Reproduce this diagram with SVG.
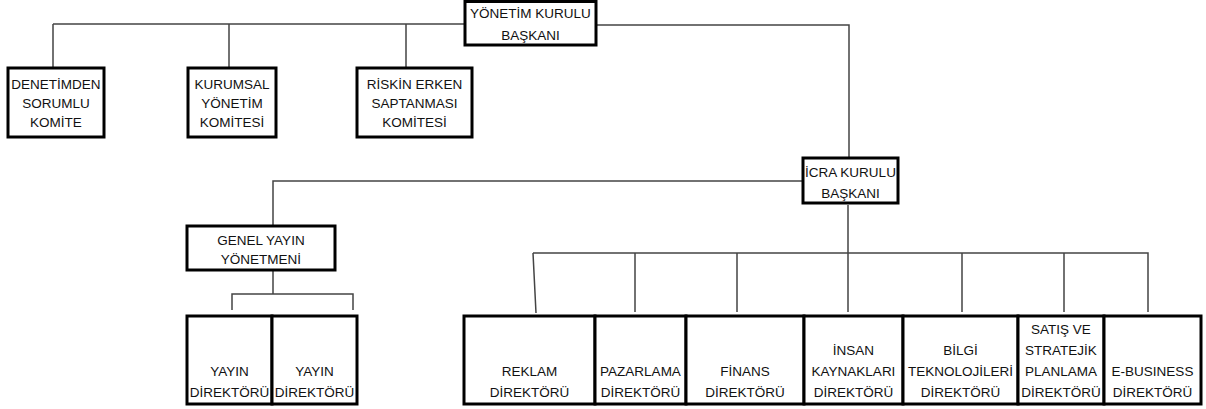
<svg xmlns="http://www.w3.org/2000/svg" width="1206" height="409" viewBox="0 0 1206 409">
<style>
.box{fill:#fff;stroke:#000;stroke-width:3}
.t{font-family:"Liberation Sans",Arial,sans-serif;font-size:13.5px;fill:#111;text-anchor:middle}
.c{fill:none;stroke:#444;stroke-width:1.5}
</style>
<rect width="1206" height="409" fill="#fff"/>
<g id="connectors">
<path class="c" d="M53,24 H465 M596,25 H849 V158 M53,24 V68 M229,24 V68 M406,24 V68"/>
<path class="c" d="M803,181 H273 V226"/>
<path class="c" d="M273,270 V294 M232,310 V294 H353 V310"/>
<path class="c" d="M848,205 V312 M533,253 H1148 V312 M533,253 L536,313 M635,253 V312 M737,253 V312 M962,253 V312 M1064,253 V312"/>
</g>
<g id="n-yonetim"><rect class="box" x="465" y="1.5" width="131" height="43.5"/><text class="t" x="530.5" y="18">YÖNETİM KURULU</text><text class="t" x="530.5" y="40">BAŞKANI</text></g>
<g id="n-denetim"><rect class="box" x="8" y="68" width="96" height="69"/><text class="t" x="56" y="89">DENETİMDEN</text><text class="t" x="56" y="108">SORUMLU</text><text class="t" x="56" y="127">KOMİTE</text></g>
<g id="n-kurumsal"><rect class="box" x="188" y="68" width="88" height="69"/><text class="t" x="232" y="89">KURUMSAL</text><text class="t" x="232" y="108">YÖNETİM</text><text class="t" x="232" y="127">KOMİTESİ</text></g>
<g id="n-riskin"><rect class="box" x="357" y="68" width="115" height="69"/><text class="t" x="414.5" y="89">RİSKİN ERKEN</text><text class="t" x="414.5" y="108">SAPTANMASI</text><text class="t" x="414.5" y="127">KOMİTESİ</text></g>
<g id="n-icra"><rect class="box" x="803" y="158" width="95" height="45"/><text class="t" x="850.5" y="177">İCRA KURULU</text><text class="t" x="850.5" y="198">BAŞKANI</text></g>
<g id="n-genel"><rect class="box" x="187" y="226" width="148" height="44"/><text class="t" x="261" y="245">GENEL YAYIN</text><text class="t" x="261" y="264">YÖNETMENİ</text></g>
<g id="n-yayin1"><rect class="box" x="187" y="316" width="85" height="88"/><text class="t" x="229.5" y="376">YAYIN</text><text class="t" x="229.5" y="397">DİREKTÖRÜ</text></g>
<g id="n-yayin2"><rect class="box" x="272" y="316" width="85" height="88"/><text class="t" x="314.5" y="376">YAYIN</text><text class="t" x="314.5" y="397">DİREKTÖRÜ</text></g>
<g id="n-reklam"><rect class="box" x="464" y="316" width="131" height="88"/><text class="t" x="529.5" y="376">REKLAM</text><text class="t" x="529.5" y="397">DİREKTÖRÜ</text></g>
<g id="n-pazarlama"><rect class="box" x="595" y="316" width="91" height="88"/><text class="t" x="640.5" y="376">PAZARLAMA</text><text class="t" x="640.5" y="397">DİREKTÖRÜ</text></g>
<g id="n-finans"><rect class="box" x="686" y="316" width="118" height="88"/><text class="t" x="745" y="376">FİNANS</text><text class="t" x="745" y="397">DİREKTÖRÜ</text></g>
<g id="n-insan"><rect class="box" x="804" y="316" width="99" height="88"/><text class="t" x="853.5" y="355">İNSAN</text><text class="t" x="853.5" y="376">KAYNAKLARI</text><text class="t" x="853.5" y="397">DİREKTÖRÜ</text></g>
<g id="n-bilgi"><rect class="box" x="903" y="316" width="115" height="88"/><text class="t" x="960.5" y="355">BİLGİ</text><text class="t" x="960.5" y="376">TEKNOLOJİLERİ</text><text class="t" x="960.5" y="397">DİREKTÖRÜ</text></g>
<g id="n-satis"><rect class="box" x="1018" y="316" width="86" height="88"/><text class="t" x="1061" y="334">SATIŞ VE</text><text class="t" x="1061" y="355">STRATEJİK</text><text class="t" x="1061" y="376">PLANLAMA</text><text class="t" x="1061" y="397">DİREKTÖRÜ</text></g>
<g id="n-ebusiness"><rect class="box" x="1104" y="316" width="97" height="88"/><text class="t" x="1152.5" y="376">E-BUSINESS</text><text class="t" x="1152.5" y="397">DİREKTÖRÜ</text></g>
</svg>
